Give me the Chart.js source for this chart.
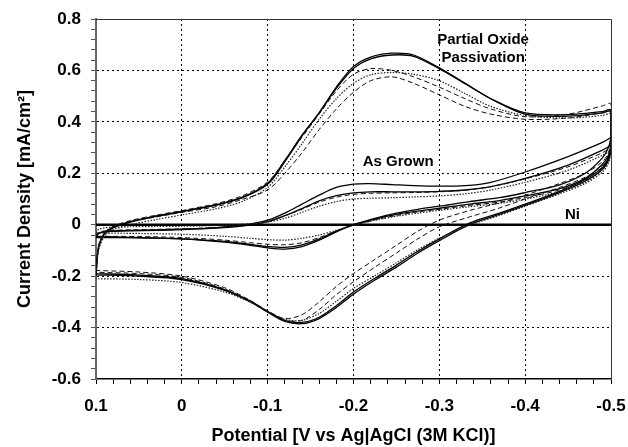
<!DOCTYPE html>
<html>
<head>
<meta charset="utf-8">
<script src="https://cdn.jsdelivr.net/npm/chart.js@4"></script>
<style>
  html, body { margin: 0; padding: 0; background: #fff; }
  #wrap { width: 628px; height: 447px; }
</style>
</head>
<body>
<div id="wrap"><canvas id="cv"></canvas></div>
<script>
// potentials (V) sampled along each sweep
const upPotential = [0.1, 0.097, 0.09, 0.08, 0.06, 0.03, 0.0, -0.04, -0.07, -0.1, -0.12, -0.14, -0.16, -0.18, -0.2, -0.22, -0.245, -0.27, -0.3, -0.33, -0.36, -0.4, -0.45, -0.49, -0.5];
const downPotential = [-0.5, -0.497, -0.49, -0.47, -0.44, -0.4, -0.37, -0.335, -0.3, -0.275, -0.25, -0.225, -0.2, -0.18, -0.16, -0.14, -0.12, -0.1, -0.08, -0.05, 0.0, 0.05, 0.1];

// Partial oxide passivation (mA/cm2)
const poSolidAUp = [-0.195, -0.09, -0.035, -0.012, 0.01, 0.032, 0.05, 0.076, 0.104, 0.157, 0.245, 0.345, 0.435, 0.535, 0.615, 0.652, 0.667, 0.66, 0.61, 0.55, 0.49, 0.43, 0.422, 0.435, 0.44];
const poSolidADown = [0.3, 0.25, 0.215, 0.17, 0.125, 0.075, 0.04, 0.0, -0.062, -0.11, -0.165, -0.215, -0.27, -0.322, -0.365, -0.385, -0.376, -0.34, -0.3, -0.255, -0.213, -0.2, -0.195];
const poSolidBUp = [-0.19, -0.085, -0.033, -0.01, 0.012, 0.034, 0.052, 0.078, 0.106, 0.161, 0.25, 0.348, 0.435, 0.53, 0.607, 0.645, 0.66, 0.655, 0.607, 0.548, 0.49, 0.435, 0.428, 0.44, 0.445];
const poSolidBDown = [0.31, 0.26, 0.222, 0.176, 0.13, 0.08, 0.045, 0.006, -0.055, -0.103, -0.157, -0.208, -0.262, -0.315, -0.36, -0.38, -0.372, -0.337, -0.297, -0.252, -0.21, -0.196, -0.19];
const poDashAUp = [-0.178, -0.08, -0.03, -0.006, 0.016, 0.037, 0.055, 0.082, 0.112, 0.166, 0.25, 0.34, 0.43, 0.52, 0.585, 0.607, 0.6, 0.575, 0.535, 0.49, 0.45, 0.42, 0.43, 0.462, 0.47];
const poDashADown = [0.33, 0.28, 0.245, 0.2, 0.16, 0.115, 0.085, 0.055, 0.018, -0.025, -0.08, -0.135, -0.19, -0.24, -0.3, -0.35, -0.365, -0.335, -0.295, -0.245, -0.2, -0.184, -0.178];
const poDashBUp = [-0.185, -0.085, -0.032, -0.008, 0.012, 0.03, 0.048, 0.07, 0.098, 0.135, 0.2, 0.28, 0.37, 0.45, 0.515, 0.56, 0.575, 0.55, 0.505, 0.46, 0.43, 0.41, 0.415, 0.435, 0.44];
const poDashBDown = [0.31, 0.265, 0.23, 0.185, 0.145, 0.1, 0.065, 0.03, -0.008, -0.055, -0.11, -0.165, -0.222, -0.272, -0.33, -0.372, -0.372, -0.34, -0.3, -0.25, -0.205, -0.19, -0.185];
const poDotUp = [-0.21, -0.1, -0.045, -0.02, 0.0, 0.02, 0.038, 0.062, 0.09, 0.145, 0.225, 0.315, 0.41, 0.49, 0.55, 0.583, 0.592, 0.585, 0.56, 0.51, 0.46, 0.425, 0.415, 0.425, 0.43];
const poDotDown = [0.29, 0.24, 0.205, 0.16, 0.12, 0.072, 0.036, -0.002, -0.052, -0.097, -0.148, -0.198, -0.248, -0.298, -0.345, -0.372, -0.368, -0.338, -0.302, -0.262, -0.225, -0.213, -0.21];

// As grown
const agSolidAUp = [-0.045, -0.033, -0.027, -0.024, -0.022, -0.02, -0.017, -0.011, -0.002, 0.018, 0.045, 0.08, 0.115, 0.145, 0.158, 0.16, 0.156, 0.152, 0.15, 0.152, 0.165, 0.205, 0.265, 0.32, 0.34];
const agSolidADown = [0.34, 0.3, 0.26, 0.2, 0.155, 0.125, 0.105, 0.09, 0.072, 0.06, 0.045, 0.025, 0.0, -0.028, -0.06, -0.085, -0.095, -0.09, -0.08, -0.068, -0.055, -0.05, -0.045];
const agSolidBUp = [-0.05, -0.035, -0.028, -0.026, -0.024, -0.022, -0.019, -0.013, -0.005, 0.012, 0.035, 0.063, 0.093, 0.113, 0.124, 0.128, 0.128, 0.128, 0.13, 0.135, 0.148, 0.18, 0.232, 0.29, 0.31];
const agSolidBDown = [0.31, 0.27, 0.235, 0.18, 0.14, 0.112, 0.094, 0.08, 0.064, 0.053, 0.04, 0.022, 0.0, -0.025, -0.055, -0.078, -0.088, -0.085, -0.077, -0.065, -0.055, -0.051, -0.05];
const agDashUp = [-0.045, -0.03, -0.024, -0.022, -0.02, -0.018, -0.016, -0.011, -0.004, 0.012, 0.035, 0.06, 0.088, 0.107, 0.118, 0.122, 0.124, 0.125, 0.128, 0.134, 0.148, 0.178, 0.225, 0.28, 0.3];
const agDashDown = [0.3, 0.26, 0.225, 0.175, 0.135, 0.106, 0.088, 0.075, 0.06, 0.05, 0.036, 0.019, -0.002, -0.024, -0.05, -0.07, -0.078, -0.076, -0.07, -0.06, -0.05, -0.046, -0.045];
const agDotUp = [-0.032, -0.018, -0.012, -0.01, -0.008, -0.007, -0.006, -0.003, 0.002, 0.01, 0.025, 0.048, 0.072, 0.09, 0.1, 0.103, 0.105, 0.108, 0.112, 0.12, 0.135, 0.165, 0.212, 0.27, 0.29];
const agDotDown = [0.29, 0.25, 0.215, 0.165, 0.128, 0.1, 0.083, 0.07, 0.056, 0.045, 0.033, 0.017, -0.003, -0.022, -0.04, -0.053, -0.06, -0.058, -0.053, -0.045, -0.037, -0.034, -0.032];

// bare Ni
const niPotential = [0.1, -0.5];
const niCurrent = [0, 0];

const notes = [
    ['Partial Oxide', -0.351, 0.718],
    ['Passivation', -0.351, 0.648],
    ['As Grown', -0.252, 0.243],
    ['Ni', -0.455, 0.037]
];

function loop(up, down) {
    let pts = [];
    for (let i = 0; i < upPotential.length; i++) pts.push({x: upPotential[i], y: up[i]});
    for (let i = 0; i < downPotential.length; i++) pts.push({x: downPotential[i], y: down[i]});
    return pts;
}

const solid = {borderWidth: 1.3, borderDash: [], borderColor: '#000'};
const dashed = {borderWidth: 1, borderDash: [5, 3], borderColor: '#111'};
const dotted = {borderWidth: 1.2, borderDash: [1.5, 1.5], borderColor: '#222'};

function curve(up, down, style) {
    return Object.assign({data: loop(up, down), showLine: true, pointRadius: 0, tension: 0.3, fill: false}, style);
}

const datasets = [
    curve(poDotUp, poDotDown, dotted),
    curve(poDashAUp, poDashADown, dashed),
    curve(poDashBUp, poDashBDown, dashed),
    curve(poSolidBUp, poSolidBDown, solid),
    curve(poSolidAUp, poSolidADown, solid),
    curve(agDotUp, agDotDown, dotted),
    curve(agDashUp, agDashDown, dashed),
    curve(agSolidBUp, agSolidBDown, solid),
    curve(agSolidAUp, agSolidADown, solid),
    {
        data: niPotential.map((p, i) => ({x: p, y: niCurrent[i]})),
        showLine: true, pointRadius: 0, borderWidth: 2.4, borderColor: '#000'
    }
];

function isMultiple(v, step) {
    let q = v / step;
    return Math.abs(q - Math.round(q)) < 1e-6;
}
function fmt(v) {
    let r = Math.round(v * 10) / 10;
    return r === 0 ? '0' : String(r);
}

const tickFont = {family: 'Liberation Sans', size: 17, weight: 'bold'};
const titleFont = {family: 'Liberation Sans', size: 18, weight: 'bold'};

const framePlugin = {
    id: 'frame',
    afterDraw(chart) {
        const {ctx, chartArea: a} = chart;
        ctx.save();
        ctx.strokeStyle = '#333';
        ctx.lineWidth = 1;
        ctx.beginPath();
        ctx.moveTo(a.left, a.top + 0.5);
        ctx.lineTo(a.right + 0.5, a.top + 0.5);
        ctx.lineTo(a.right + 0.5, a.bottom);
        ctx.stroke();
        ctx.restore();
    },
    afterDatasetsDraw(chart) {
        const {ctx, scales} = chart;
        ctx.save();
        ctx.fillStyle = '#000';
        ctx.font = 'bold 15px "Liberation Sans"';
        ctx.textAlign = 'center';
        ctx.textBaseline = 'middle';
        notes.forEach(n => {
            ctx.fillText(n[0], scales.x.getPixelForValue(n[1]), scales.y.getPixelForValue(n[2]));
        });
        ctx.restore();
    }
};

new Chart(document.getElementById('cv'), {
    type: 'scatter',
    data: {datasets: datasets},
    options: {
        responsive: true,
        maintainAspectRatio: false,
        animation: false,
        layout: {padding: {top: 19, right: 17, left: 0, bottom: 0}},
        plugins: {legend: {display: false}, tooltip: {enabled: false}},
        scales: {
            x: {
                type: 'linear',
                reverse: true,
                min: -0.5,
                max: 0.1,
                afterFit: s => { s.height = 68; s.paddingLeft = 0; s.paddingRight = 0; },
                ticks: {
                    stepSize: 0.02,
                    autoSkip: false,
                    maxRotation: 0,
                    padding: 12,
                    color: '#000',
                    font: tickFont,
                    callback: v => isMultiple(v, 0.1) ? fmt(v) : ''
                },
                grid: {
                    color: c => (isMultiple(c.tick.value, 0.1) && c.tick.value > -0.49 && c.tick.value < 0.09) ? '#000' : 'rgba(0,0,0,0)',
                    tickColor: '#000',
                    tickLength: 5,
                    lineWidth: 1
                },
                border: {color: '#000', width: 1.5, dash: [2, 3]},
                title: {display: true, text: 'Potential [V vs Ag|AgCl (3M KCl)]', color: '#000', font: titleFont, padding: {top: 0, bottom: 0}}
            },
            y: {
                min: -0.6,
                max: 0.8,
                afterFit: s => { s.width = 96; s.paddingTop = 0; s.paddingBottom = 0; },
                ticks: {
                    stepSize: 0.04,
                    autoSkip: false,
                    padding: 10,
                    color: '#000',
                    font: tickFont,
                    callback: v => isMultiple(v, 0.2) ? fmt(v) : ''
                },
                grid: {
                    color: c => (isMultiple(c.tick.value, 0.2) && c.tick.value > -0.59 && c.tick.value < 0.79) ? '#000' : 'rgba(0,0,0,0)',
                    tickColor: '#555',
                    tickLength: 5,
                    lineWidth: 1
                },
                border: {color: '#666', width: 2, dash: [2, 3]},
                title: {display: true, text: 'Current Density [mA/cm\u00b2]', color: '#000', font: titleFont, padding: {top: 14, bottom: 0}}
            }
        }
    },
    plugins: [framePlugin]
});
</script>
</body>
</html>
